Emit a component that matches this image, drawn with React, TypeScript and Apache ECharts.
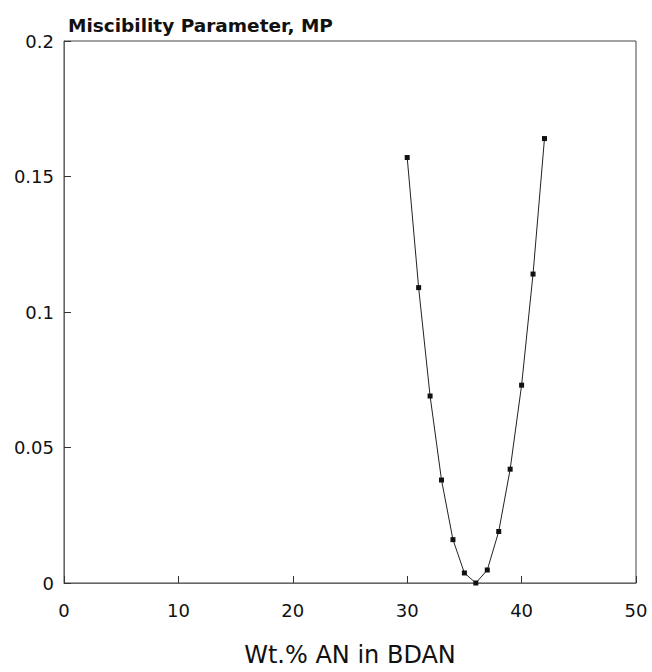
import React, { useEffect, useRef } from "react";
import * as echarts from "echarts";

const xValues = [30, 31, 32, 33, 34, 35, 36, 37, 38, 39, 40, 41, 42];
const mpValues = [0.157, 0.109, 0.069, 0.038, 0.016, 0.0037, 0.0, 0.0048, 0.019, 0.042, 0.073, 0.114, 0.164];
const xTicks = [0, 10, 20, 30, 40, 50];
const yTicks = [0, 0.05, 0.1, 0.15, 0.2];

const FONT = "'DejaVu Sans', Arial, Helvetica, sans-serif";

export default function App() {
  const ref = useRef<HTMLDivElement>(null);
  useEffect(() => {
    document.body.style.margin = "0";
    const chart = echarts.init(ref.current!, null, { renderer: "svg" });
    chart.setOption({
      animation: false,
      backgroundColor: "#ffffff",
      title: {
        text: "Miscibility Parameter, MP",
        left: 63,
        top: 11,
        textStyle: { fontFamily: FONT, fontSize: 18.5, fontWeight: "bold", color: "#111" },
      },
      grid: {
        left: 64,
        right: 16,
        top: 41,
        bottom: 75,
        show: true,
        borderColor: "#444",
        borderWidth: 1,
        backgroundColor: "transparent",
      },
      xAxis: {
        type: "value",
        min: xTicks[0],
        max: xTicks[xTicks.length - 1],
        interval: 10,
        name: "Wt.% AN in BDAN",
        nameLocation: "middle",
        nameGap: 60,
        nameTextStyle: { fontFamily: FONT, fontSize: 24, color: "#111" },
        axisLine: { show: true, lineStyle: { color: "#666", width: 1 } },
        axisTick: { show: true, inside: true, length: 7, lineStyle: { color: "#333" } },
        axisLabel: { fontFamily: FONT, fontSize: 18, color: "#111", margin: 18 },
        splitLine: { show: false },
      },
      yAxis: {
        type: "value",
        min: yTicks[0],
        max: yTicks[yTicks.length - 1],
        interval: 0.05,
        axisLine: { show: true, lineStyle: { color: "#666", width: 1 } },
        axisTick: { show: true, inside: true, length: 7, lineStyle: { color: "#333" } },
        axisLabel: { fontFamily: FONT, fontSize: 18, color: "#111", margin: 10 },
        splitLine: { show: false },
      },
      series: [
        {
          type: "line",
          data: xValues.map((x, i) => [x, mpValues[i]]),
          symbol: "rect",
          symbolSize: 5,
          itemStyle: { color: "#111" },
          lineStyle: { color: "#222", width: 1 },
          smooth: false,
        },
      ],
    });
    return () => chart.dispose();
  }, []);
  return <div ref={ref} style={{ width: 652, height: 672 }} />;
}
